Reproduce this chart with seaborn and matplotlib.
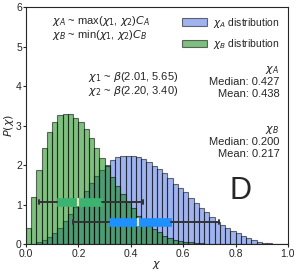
import numpy as np
import pandas as pd
import matplotlib
matplotlib.use("Agg")
import matplotlib.pyplot as plt
import seaborn as sns

# bin centres (50 bins on [0, 1]) and densities
bin_centers = np.arange(0.01, 1.0, 0.02)

dens_a = [0.0, 0.02, 0.05, 0.10, 0.18, 0.29, 0.42, 0.60, 0.78, 0.95,
          1.12, 1.35, 1.55, 1.73, 1.88, 2.02, 2.13, 2.20, 2.23, 2.24,
          2.24, 2.21, 2.16, 2.08, 1.99, 1.90, 1.80, 1.67, 1.54, 1.43,
          1.32, 1.18, 1.05, 0.93, 0.81, 0.68, 0.57, 0.48, 0.42, 0.35,
          0.28, 0.21, 0.15, 0.11, 0.07, 0.04, 0.025, 0.012, 0.005, 0.0]
dens_b = [0.42, 1.20, 1.88, 2.43, 2.84, 3.10, 3.27, 3.30, 3.31, 3.21,
          3.09, 2.92, 2.68, 2.45, 2.18, 1.98, 1.71, 1.48, 1.27, 1.08,
          0.91, 0.72, 0.57, 0.47, 0.38, 0.30, 0.22, 0.17, 0.12, 0.09,
          0.07, 0.05, 0.035, 0.025, 0.015, 0.01, 0.005, 0.0, 0.0, 0.0,
          0.0, 0.0, 0.0, 0.0, 0.0, 0.0, 0.0, 0.0, 0.0, 0.0]

# box summaries: whisker low, q1, median, q3, whisker high
box_a = [0.181, 0.315, 0.427, 0.554, 0.737]
box_b = [0.050, 0.120, 0.200, 0.290, 0.446]

stats_a = {"median": 0.427, "mean": 0.438}
stats_b = {"median": 0.200, "mean": 0.217}

df = pd.DataFrame({"x": bin_centers, "a": dens_a, "b": dens_b})

sns.set_style("ticks")
plt.rcParams["font.family"] = ["Liberation Sans", "DejaVu Sans"]
plt.rcParams["mathtext.fontset"] = "dejavusans"

fig = plt.figure(figsize=(2.99, 2.73), dpi=100)
ax = fig.add_axes([0.087, 0.105, 0.876, 0.868])

sns.histplot(data=df, x="x", weights="a", binwidth=0.02, binrange=(0, 1),
             color="royalblue", alpha=0.5, edgecolor=(0, 0, 0, 0.55), linewidth=0.8,
             label=r"$\chi_A$ distribution", ax=ax)
sns.histplot(data=df, x="x", weights="b", binwidth=0.02, binrange=(0, 1),
             color="green", alpha=0.5, edgecolor=(0, 0, 0, 0.55), linewidth=0.8,
             label=r"$\chi_B$ distribution", ax=ax)


def box_dict(v):
    return {"whislo": v[0], "q1": v[1], "med": v[2], "q3": v[3], "whishi": v[4], "fliers": []}


for vals, pos, col in [(box_b, 1.07, "mediumseagreen"), (box_a, 0.565, "dodgerblue")]:
    ax.bxp([box_dict(vals)], positions=[pos], widths=0.19, vert=False,
           patch_artist=True, showfliers=False, manage_ticks=False,
           boxprops=dict(facecolor=col, edgecolor=col, linewidth=0.5),
           medianprops=dict(color="#f0e6b8", linewidth=1.5),
           whiskerprops=dict(color="#333333", linewidth=1.4),
           capprops=dict(color="#333333", linewidth=1.4), zorder=5)

ax.set_xlim(0, 1)
ax.set_ylim(0, 6)
ax.set_xticks([0, 0.2, 0.4, 0.6, 0.8, 1.0])
ax.set_yticks(range(7))
ax.tick_params(labelsize=7.5, length=2, width=0.8, pad=1)
ax.set_xlabel(r"$\chi$", fontsize=8, labelpad=0)
ax.set_ylabel(r"$P(\chi)$", fontsize=8, labelpad=0)

ax.text(0.10, 5.65, r"$\chi_A$ ~ max($\chi_1$, $\chi_2$)$C_A$", fontsize=8, va="center")
ax.text(0.10, 5.30, r"$\chi_B$ ~ min($\chi_1$, $\chi_2$)$C_B$", fontsize=8, va="center")
ax.text(0.58, 4.23, r"$\chi_1$ ~ $\beta$(2.01, 5.65)", fontsize=8, va="center", ha="right")
ax.text(0.58, 3.88, r"$\chi_2$ ~ $\beta$(2.20, 3.40)", fontsize=8, va="center", ha="right")

ax.text(0.967, 4.41, r"$\chi_A$", fontsize=8, va="center", ha="right")
ax.text(0.967, 4.11, "Median: %.3f" % stats_a["median"], fontsize=8, va="center", ha="right")
ax.text(0.967, 3.80, "Mean: %.3f" % stats_a["mean"], fontsize=8, va="center", ha="right")
ax.text(0.967, 2.89, r"$\chi_B$", fontsize=8, va="center", ha="right")
ax.text(0.967, 2.59, "Median: %.3f" % stats_b["median"], fontsize=8, va="center", ha="right")
ax.text(0.967, 2.28, "Mean: %.3f" % stats_b["mean"], fontsize=8, va="center", ha="right")

ax.text(0.82, 1.35, "D", fontsize=22, va="center", ha="center")

ax.legend(loc="upper right", frameon=False, fontsize=7.5, handlelength=2.4,
          handleheight=0.7, borderaxespad=0.4, labelspacing=0.7, handletextpad=0.6)

fig.savefig("out.png", dpi=100)
